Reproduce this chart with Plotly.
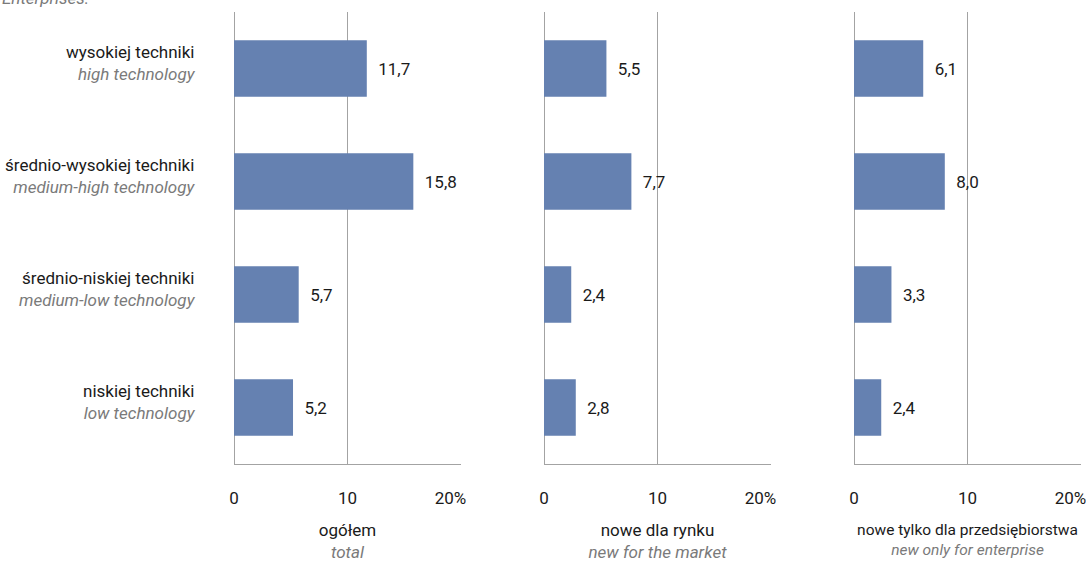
import plotly.graph_objects as go
from plotly.subplots import make_subplots

categories = ["wysokiej techniki", "średnio-wysokiej techniki",
              "średnio-niskiej techniki", "niskiej techniki"]
categories_en = ["high technology", "medium-high technology",
                 "medium-low technology", "low technology"]

total = [11.7, 15.8, 5.7, 5.2]
new_market = [5.5, 7.7, 2.4, 2.8]
new_enterprise = [6.1, 8.0, 3.3, 2.4]

panel_titles = ["ogółem", "nowe dla rynku", "nowe tylko dla przedsiębiorstwa"]
panel_titles_en = ["total", "new for the market", "new only for enterprise"]

tick_vals = [0, 10, 20]
tick_text = ["0", "10", "20%\u00a0\u00a0\u00a0\u00a0\u00a0"]

FONT = "Roboto, Liberation Sans Narrow, sans-serif"
BAR = "#6581b1"
GRID = "#a3a3a3"
GREY = "#7a7a7a"
INK = "#1a1a1a"


def fmt(v):
    return f"{v:.1f}".replace(".", ",")


def main():
    fig = make_subplots(rows=1, cols=3, shared_yaxes=True)

    for i, vals in enumerate([total, new_market, new_enterprise]):
        fig.add_trace(go.Bar(
            x=vals, y=categories, orientation="h",
            marker=dict(color=BAR, line=dict(width=0)),
            width=0.5,
            text=["\u00a0\u00a0" + fmt(v) for v in vals],
            textposition="outside", cliponaxis=False,
            textfont=dict(size=17, color=INK, family=FONT),
            hoverinfo="skip",
        ), row=1, col=i + 1)

    domains = [[234 / 1086, 461 / 1086], [544 / 1086, 771 / 1086], [854 / 1086, 1081 / 1086]]
    title_sizes = [17, 17, 15.5]
    for i in range(3):
        key = "xaxis" if i == 0 else f"xaxis{i + 1}"
        fig.layout[key].update(
            domain=domains[i], range=[0, 20], tickvals=tick_vals, ticktext=tick_text,
            showgrid=True, gridcolor=GRID, gridwidth=1,
            zeroline=True, zerolinecolor=GRID, zerolinewidth=1,
            showline=True, linecolor=GRID, linewidth=1,
            ticks="", ticklabelstandoff=19, automargin=False,
            ticklabeloverflow="allow",
            tickfont=dict(size=17, color=INK, family=FONT),
            title=dict(
                text=f"{panel_titles[i]}<br><i><span style='color:{GREY}'>{panel_titles_en[i]}</span></i>",
                font=dict(size=title_sizes[i], color=INK, family=FONT), standoff=16),
            fixedrange=True,
        )

    fig.update_yaxes(
        domain=[1 - 464 / 562, 1 - 12 / 562],
        autorange="reversed", showgrid=False, zeroline=False, showline=False,
        ticks="", fixedrange=True, automargin=False, showticklabels=False,
    )

    # category labels, two languages, right-aligned left of the first panel
    for c, e in zip(categories, categories_en):
        fig.add_annotation(
            text=f"{c}<br><i><span style='color:{GREY}'>{e}</span></i>",
            xref="paper", yref="y", x=198 / 1086, y=c,
            xanchor="right", yanchor="middle", align="right", yshift=6,
            showarrow=False, font=dict(size=17, color=INK, family=FONT),
        )

    fig.add_annotation(
        text="<i>Enterprises.</i>", xref="paper", yref="paper",
        x=0.0, y=1.0, xanchor="left", yanchor="middle", yshift=2,
        showarrow=False, font=dict(size=17, color=GREY, family=FONT),
    )

    fig.update_layout(
        width=1086, height=562,
        margin=dict(l=0, r=0, t=0, b=0),
        paper_bgcolor="white", plot_bgcolor="white",
        showlegend=False,
        font=dict(family=FONT, size=17, color=INK),
    )
    fig.write_html("out.html", config={"displayModeBar": False},
                   post_script="document.body.style.margin='0';")


if __name__ == "__main__":
    main()
